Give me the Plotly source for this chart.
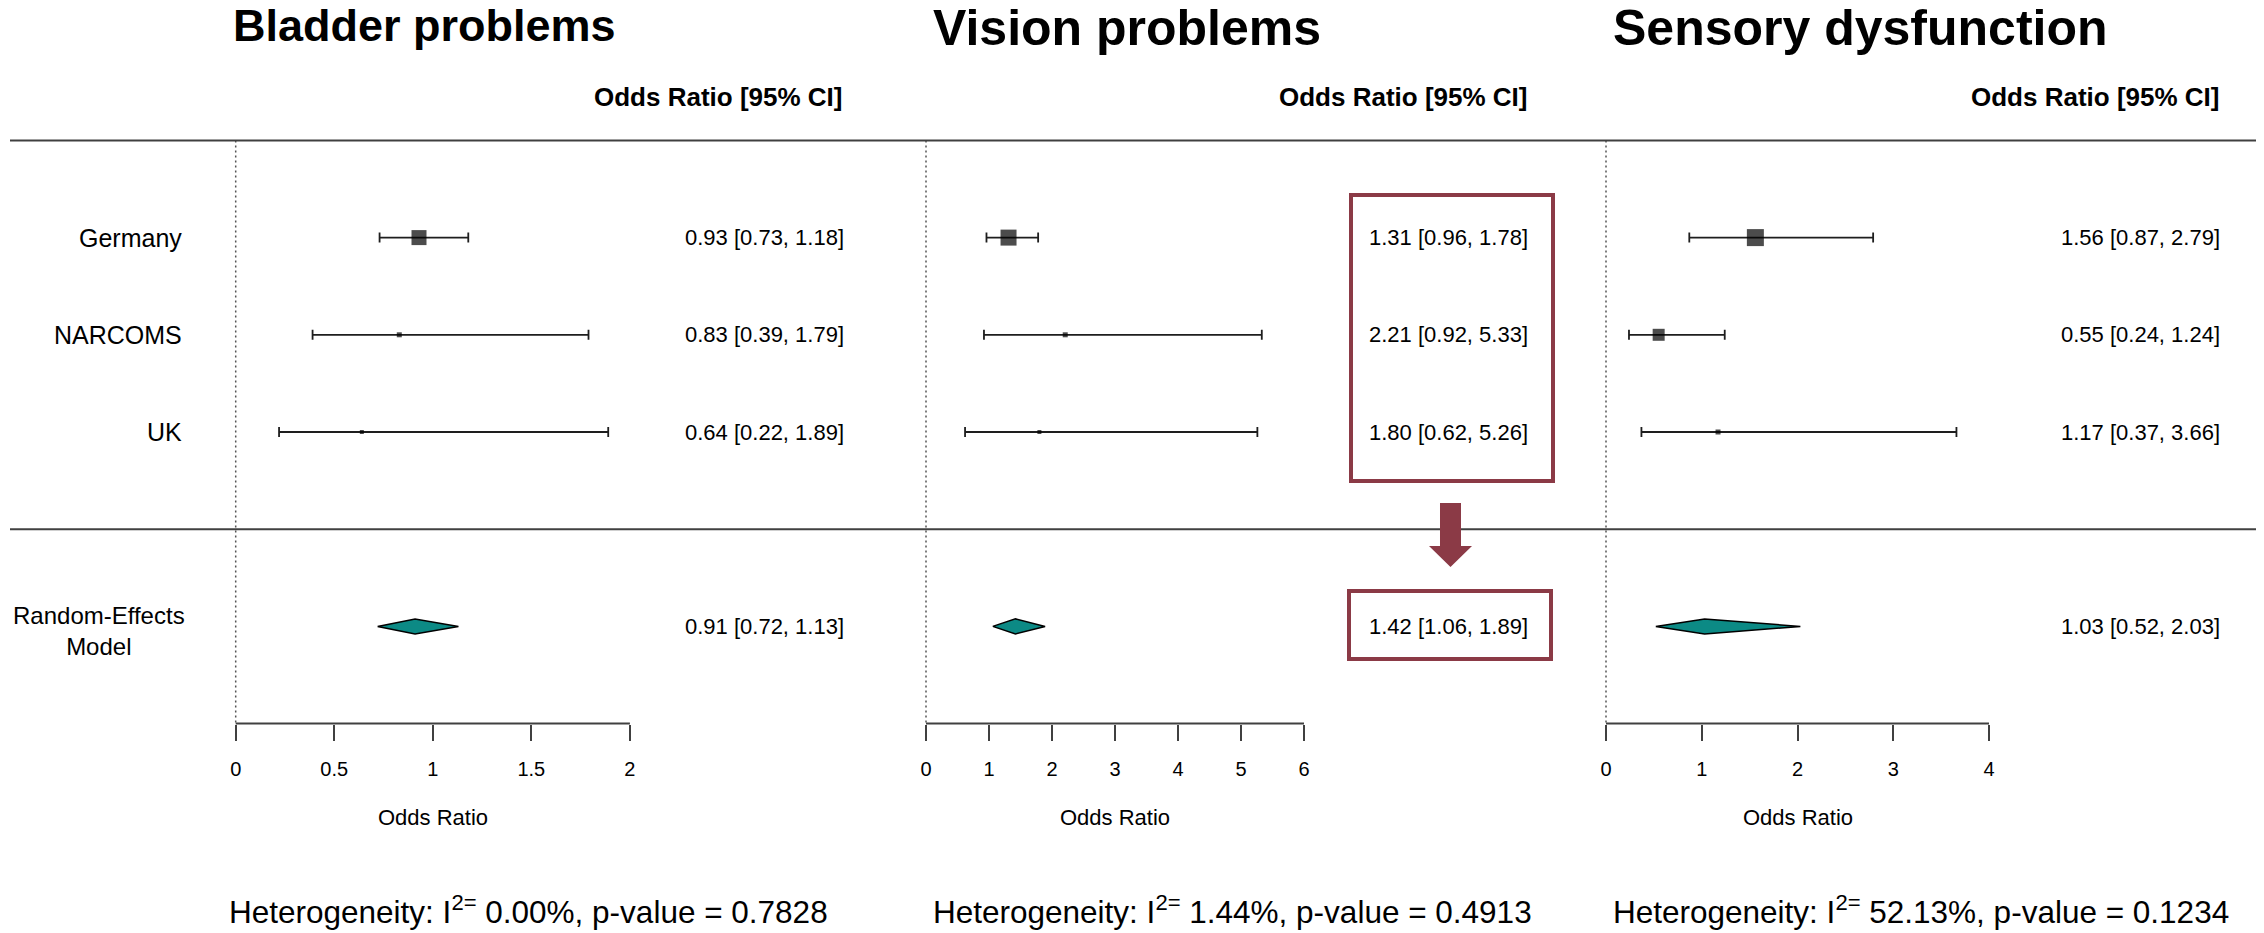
import plotly.graph_objects as go

# ---------------- data ----------------
studies = ["Germany", "NARCOMS", "UK"]
outcomes = ["Bladder problems", "Vision problems", "Sensory dysfunction"]

bladder_or = [0.93, 0.83, 0.64]
bladder_lo = [0.73, 0.39, 0.22]
bladder_hi = [1.18, 1.79, 1.89]
bladder_re = [0.91, 0.72, 1.13]      # pooled estimate, lower, upper
bladder_het = [0.00, 0.7828]         # I^2 (%), p-value
bladder_ticks = [0, 0.5, 1, 1.5, 2]

vision_or = [1.31, 2.21, 1.80]
vision_lo = [0.96, 0.92, 0.62]
vision_hi = [1.78, 5.33, 5.26]
vision_re = [1.42, 1.06, 1.89]
vision_het = [1.44, 0.4913]
vision_ticks = [0, 1, 2, 3, 4, 5, 6]

sensory_or = [1.56, 0.55, 1.17]
sensory_lo = [0.87, 0.24, 0.37]
sensory_hi = [2.79, 1.24, 3.66]
sensory_re = [1.03, 0.52, 2.03]
sensory_het = [52.13, 0.1234]
sensory_ticks = [0, 1, 2, 3, 4]

ref_value = 0
model_label = "Random-Effects<br>Model"
header_text = "Odds Ratio [95% CI]"
axis_title = "Odds Ratio"

# ---------------- layout / style ----------------
W, H = 2264, 933
FONT = "Liberation Sans, Arial, sans-serif"
TEAL = "#0c8a85"
RED = "#8b3a46"
LINE = "#404040"

study_rows = [3, 2, 1]
re_row = -1
top_row, mid_row, axis_row = 4, 0, -2
ROW_PX = 97.2              # px per row
ROW0_PX = 529.2            # pixel y of row 0
y_range = [(ROW0_PX - H) / ROW_PX, ROW0_PX / ROW_PX]

panel_domain_px = [(0, 880), (880, 1552), (1552, 2264)]
panel_zero_px = [235.7, 926.0, 1606.0]
panel_unit_px = [197.1, 63.0, 95.75]
marker_sizes = [[15, 5, 4], [16, 5, 4], [17, 12, 5]]
value_right_px = [846, 1530, 2222]
header_right_px = [844, 1529, 2221]
title_left_px = [231, 931, 1611]
title_sizes = [45, 50, 50]
title_mid_px = [26, 28, 28]
het_left_px = [227, 931, 1611]


def px2x(px):
    return px / W


def px2y(py):
    return 1 - py / H


def row2px(r):
    return ROW0_PX - r * ROW_PX


panels = [
    (bladder_or, bladder_lo, bladder_hi, bladder_re, bladder_het, bladder_ticks),
    (vision_or, vision_lo, vision_hi, vision_re, vision_het, vision_ticks),
    (sensory_or, sensory_lo, sensory_hi, sensory_re, sensory_het, sensory_ticks),
]

fig = go.Figure()
annotations = []
shapes = []
diamond_half = 7.5 / ROW_PX

for i, (est, lo, hi, re, het, ticks) in enumerate(panels):
    xa = "x" if i == 0 else f"x{i + 1}"
    # reference (dotted) line
    fig.add_trace(go.Scatter(
        x=[ref_value, ref_value], y=[top_row, axis_row], xaxis=xa, yaxis="y",
        mode="lines", line=dict(color="#555555", width=1.5, dash="2px,3px"),
        hoverinfo="skip", showlegend=False))
    # study estimates with CIs
    fig.add_trace(go.Scatter(
        x=est, y=study_rows, xaxis=xa, yaxis="y", mode="markers",
        marker=dict(symbol="square", size=marker_sizes[i], color="black",
                    line=dict(width=0)),
        error_x=dict(type="data", symmetric=False,
                     array=[h - e for h, e in zip(hi, est)],
                     arrayminus=[e - l for e, l in zip(est, lo)],
                     color="#1e1e1e", thickness=1.8, width=5),
        text=studies, showlegend=False))
    # pooled diamond
    fig.add_trace(go.Scatter(
        x=[re[1], re[0], re[2], re[0], re[1]],
        y=[re_row, re_row + diamond_half, re_row, re_row - diamond_half, re_row],
        xaxis=xa, yaxis="y", mode="lines", fill="toself", fillcolor=TEAL,
        line=dict(color="black", width=1.5), showlegend=False))
    # axis line
    shapes.append(dict(type="line", xref=xa, yref="y", x0=ticks[0], x1=ticks[-1],
                       y0=axis_row, y1=axis_row, line=dict(color=LINE, width=2)))
    # annotations
    annotations.append(dict(text=f"<b>{outcomes[i]}</b>", x=px2x(title_left_px[i]),
                            y=px2y(title_mid_px[i]), xref="paper", yref="paper",
                            xanchor="left", yanchor="middle", showarrow=False,
                            font=dict(size=title_sizes[i], color="black", family=FONT)))
    annotations.append(dict(text=f"<b>{header_text}</b>", x=px2x(header_right_px[i]),
                            y=px2y(97), xref="paper", yref="paper", xanchor="right",
                            yanchor="middle", showarrow=False,
                            font=dict(size=26, color="black", family=FONT)))
    for r, e, l, h in zip(study_rows, est, lo, hi):
        annotations.append(dict(text=f"{e:.2f} [{l:.2f}, {h:.2f}]",
                                x=px2x(value_right_px[i]), y=r, xref="paper", yref="y",
                                xanchor="right", yanchor="middle", showarrow=False,
                                font=dict(size=22, color="black", family=FONT)))
    annotations.append(dict(text=f"{re[0]:.2f} [{re[1]:.2f}, {re[2]:.2f}]",
                            x=px2x(value_right_px[i]), y=re_row, xref="paper", yref="y",
                            xanchor="right", yanchor="middle", showarrow=False,
                            font=dict(size=22, color="black", family=FONT)))
    annotations.append(dict(text=axis_title, x=(ticks[0] + ticks[-1]) / 2,
                            y=px2y(817), xref=xa, yref="paper", xanchor="center",
                            yanchor="middle", showarrow=False,
                            font=dict(size=22, color="black", family=FONT)))
    annotations.append(dict(
        text=f"Heterogeneity: I<sup>2=</sup> {het[0]:.2f}%, p-value = {het[1]:.4f}",
        x=px2x(het_left_px[i]), y=px2y(910), xref="paper", yref="paper",
        xanchor="left", yanchor="middle", showarrow=False,
        font=dict(size=31.5, color="black", family=FONT)))

# study labels (left column)
for r, s in zip(study_rows, studies):
    annotations.append(dict(text=s, x=px2x(184), y=r, xref="paper", yref="y",
                            xanchor="right", yanchor="middle", showarrow=False,
                            font=dict(size=25, color="black", family=FONT)))
annotations.append(dict(text=model_label, x=px2x(99), y=re_row, xref="paper", yref="y",
                        xanchor="center", yanchor="middle", showarrow=False,
                        yshift=-5, align="center",
                        font=dict(size=24, color="black", family=FONT)))

# separators
for r in (top_row, mid_row):
    shapes.append(dict(type="line", xref="paper", yref="y", x0=px2x(10), x1=px2x(2256),
                       y0=r, y1=r, line=dict(color=LINE, width=2)))

# highlight boxes & arrow
shapes.append(dict(type="rect", xref="paper", yref="paper",
                   x0=px2x(1351), x1=px2x(1553), y0=px2y(195), y1=px2y(481),
                   line=dict(color=RED, width=4)))
shapes.append(dict(type="rect", xref="paper", yref="paper",
                   x0=px2x(1349), x1=px2x(1551), y0=px2y(591), y1=px2y(659),
                   line=dict(color=RED, width=4)))
arrow_pts = [(1440, 503), (1461, 503), (1461, 546), (1472, 546), (1450.5, 567),
             (1429, 546), (1440, 546)]
path = "M " + " L ".join(f"{px2x(x):.6f},{px2y(y):.6f}" for x, y in arrow_pts) + " Z"
shapes.append(dict(type="path", xref="paper", yref="paper", path=path,
                   fillcolor=RED, line=dict(color=RED, width=0)))

layout = dict(
    width=W, height=H, margin=dict(l=0, r=0, t=0, b=0),
    paper_bgcolor="white", plot_bgcolor="white",
    font=dict(family=FONT, color="black"),
    showlegend=False,
    yaxis=dict(range=y_range, domain=[0, 1], visible=False, fixedrange=True),
    annotations=annotations, shapes=shapes,
)
for i, (_, _, _, _, _, ticks) in enumerate(panels):
    d0, d1 = panel_domain_px[i]
    z, u = panel_zero_px[i], panel_unit_px[i]
    key = "xaxis" if i == 0 else f"xaxis{i + 1}"
    layout[key] = dict(
        domain=[px2x(d0), px2x(d1)], range=[(d0 - z) / u, (d1 - z) / u],
        anchor="free", position=px2y(row2px(axis_row)),
        showline=False, showgrid=False, zeroline=False,
        tickmode="array", tickvals=ticks, ticktext=[f"{t:g}" for t in ticks],
        ticks="outside", ticklen=16, tickwidth=2, tickcolor=LINE,
        ticklabelstandoff=11,
        tickfont=dict(size=20, color="black", family=FONT), fixedrange=True)

fig.update_layout(**layout)
fig.write_html("out.html", config={"displayModeBar": False},
               post_script="document.body.style.margin='0';document.body.style.overflow='hidden';")
